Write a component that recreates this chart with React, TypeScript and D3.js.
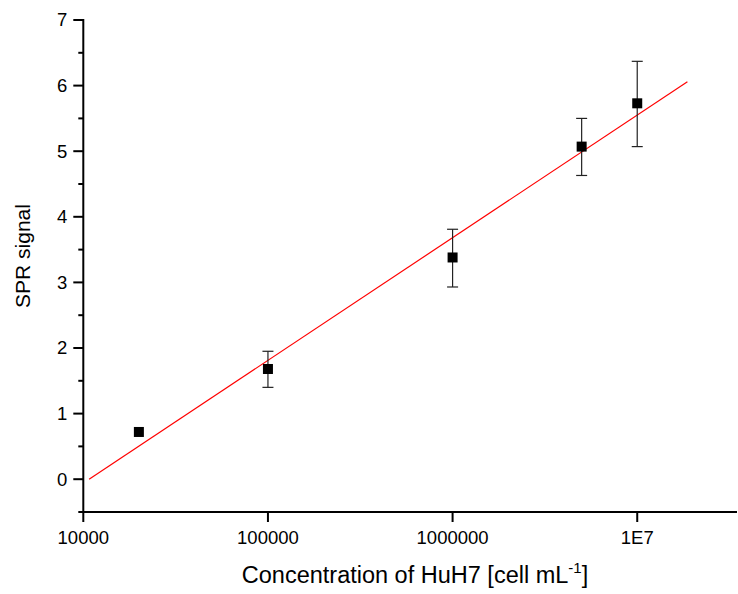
import React from "react";
import * as d3 from "d3";

const concentrations = [20000, 100000, 1000000, 5000000, 10000000];
const signals = [0.72, 1.68, 3.38, 5.07, 5.73];
const errLow = [null, 1.40, 2.93, 4.63, 5.07];
const errHigh = [null, 1.95, 3.81, 5.50, 6.37];
const fitX = [10750, 18700000];
const fitY = [0, 6.06];
const xTicks = [10000, 100000, 1000000, 10000000];
const xTickLabels = ["10000", "100000", "1000000", "1E7"];
const yTicks = [0, 1, 2, 3, 4, 5, 6, 7];
const yMinorTicks = [-0.5, 0.5, 1.5, 2.5, 3.5, 4.5, 5.5, 6.5];

export default function App() {
  const W = 738, H = 594;
  const x = d3.scaleLog().domain([1e4, 3.47e7]).range([83.3, 737]);
  const y = d3.scaleLinear().domain([-0.5, 7]).range([512, 20]);
  const line = d3.line<number>().x((_, i) => x(fitX[i])).y((d) => y(d));
  const font = "Arial, 'Liberation Sans', sans-serif";
  const x0 = x(1e4);
  return (
    <svg width={W} height={H} style={{ position: "absolute", left: 0, top: 0 }} fontFamily={font}>
      <rect width={W} height={H} fill="#fff" />
      <path d={line(fitY) || ""} fill="none" stroke="#ff0000" strokeWidth={1.2} />
      {concentrations.map((c, i) =>
        errLow[i] == null ? null : (
          <g key={"e" + i} stroke="#222" strokeWidth={1.2}>
            <line x1={x(c)} x2={x(c)} y1={y(errLow[i] as number)} y2={y(errHigh[i] as number)} />
            <line x1={x(c) - 5.5} x2={x(c) + 5.5} y1={y(errLow[i] as number)} y2={y(errLow[i] as number)} />
            <line x1={x(c) - 5.5} x2={x(c) + 5.5} y1={y(errHigh[i] as number)} y2={y(errHigh[i] as number)} />
          </g>
        )
      )}
      {concentrations.map((c, i) => (
        <rect key={"m" + i} x={x(c) - 5} y={y(signals[i]) - 5} width={10} height={10} fill="#000" />
      ))}
      <line x1={x0} x2={x0} y1={y(7) - 1} y2={y(-0.5) + 1} stroke="#000" strokeWidth={2} />
      <line x1={x0 - 1} x2={737} y1={y(-0.5)} y2={y(-0.5)} stroke="#000" strokeWidth={2} />
      {yTicks.map((t) => (
        <g key={"yt" + t}>
          <line x1={x0 - 10} x2={x0} y1={y(t)} y2={y(t)} stroke="#000" strokeWidth={2} />
          <text x={x0 - 16} y={y(t)} dy="0.35em" textAnchor="end" fontSize={18.5} fill="#000">
            {t}
          </text>
        </g>
      ))}
      {yMinorTicks.map((t) => (
        <line key={"ym" + t} x1={x0 - 5} x2={x0} y1={y(t)} y2={y(t)} stroke="#000" strokeWidth={2} />
      ))}
      {xTicks.map((t, i) => (
        <g key={"xt" + t}>
          <line x1={x(t)} x2={x(t)} y1={y(-0.5)} y2={y(-0.5) + 10} stroke="#000" strokeWidth={2} />
          <text x={x(t)} y={544} textAnchor="middle" fontSize={18.5} fill="#000">
            {xTickLabels[i]}
          </text>
        </g>
      ))}
      <text x={415} y={583} textAnchor="middle" fontSize={23.5} fill="#000">
        Concentration of HuH7 [cell mL
        <tspan dy={-10} fontSize={15}>-1</tspan>
        <tspan dy={10}>]</tspan>
      </text>
      <text transform="translate(30,256) rotate(-90)" textAnchor="middle" fontSize={21} fill="#000">
        SPR signal
      </text>
    </svg>
  );
}
